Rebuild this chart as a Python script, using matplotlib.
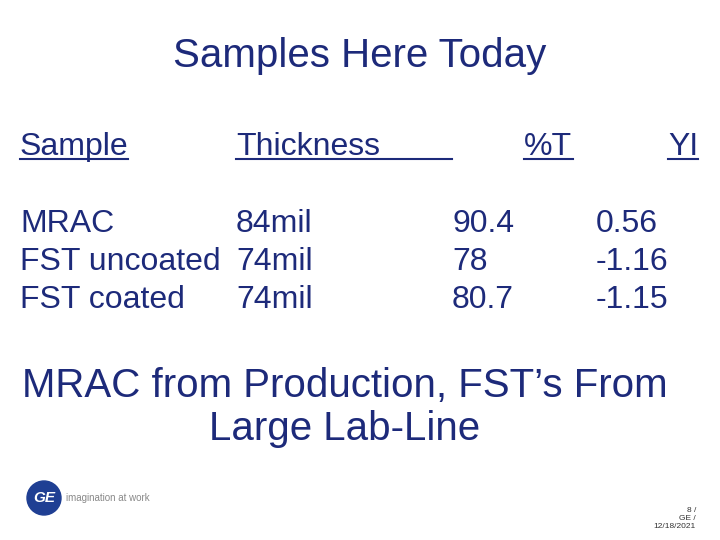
import matplotlib
matplotlib.use("Agg")
import matplotlib.pyplot as plt
from matplotlib.lines import Line2D
from matplotlib.patches import Ellipse

title = "Samples Here Today"
headers = ["Sample", "Thickness", "%T", "YI"]
samples = ["MRAC", "FST uncoated", "FST coated"]
thickness = ["84mil", "74mil", "74mil"]
transmission = ["90.4", "78", "80.7"]
yi = ["0.56", "-1.16", "-1.15"]
note_lines = ["MRAC from Production, FST\u2019s From", "Large Lab-Line"]
footer = "8 /\nGE /\n12/18/2021"

W, H = 720, 540
fig = plt.figure(figsize=(7.2, 5.4), dpi=100)
fig.patch.set_facecolor("white")
plt.rcParams['font.family'] = ['Liberation Sans', 'DejaVu Sans']
C = "#1d2a7a"

def T(x, y, s, **kw):
    fig.text(x / W, 1 - y / H, s, color=kw.pop("color", C), **kw)

def U(x0, x1, y):
    fig.add_artist(Line2D([x0 / W, x1 / W], [1 - y / H] * 2, color=C, lw=1.5))

T(360, 67, title, fontsize=29, ha="center", va="baseline")

hx = [20, 236, 524, 668]
for x, h in zip(hx, headers):
    T(x, 155, h, fontsize=23, va="baseline")
U(20, 128, 159); U(236, 452, 159); U(524, 573, 159); U(668, 698, 159)

cols = [samples, thickness, transmission, yi]
cx = [20, 236, 452, 596]
for x, col in zip(cx, cols):
    for i, v in enumerate(col):
        T(x, 232 + 38 * i, v, fontsize=23, va="baseline")

for i, line in enumerate(note_lines):
    T(345, 397 + 43 * i, line, fontsize=29, ha="center", va="baseline")

fig.add_artist(Ellipse((44 / W, 1 - 498 / H), 34 / W, 34 / H, transform=fig.transFigure, color="#1f3f93"))
T(44, 498, "GE", fontsize=11, ha="center", va="center", color="white", style="italic", weight="bold")
T(66, 498, "imagination at work", fontsize=7, va="center", color="#888888")
T(696, 518, footer, fontsize=6, ha="right", va="center", color="#333333", multialignment="right")

fig.savefig("out.png", dpi=100, facecolor="white")
